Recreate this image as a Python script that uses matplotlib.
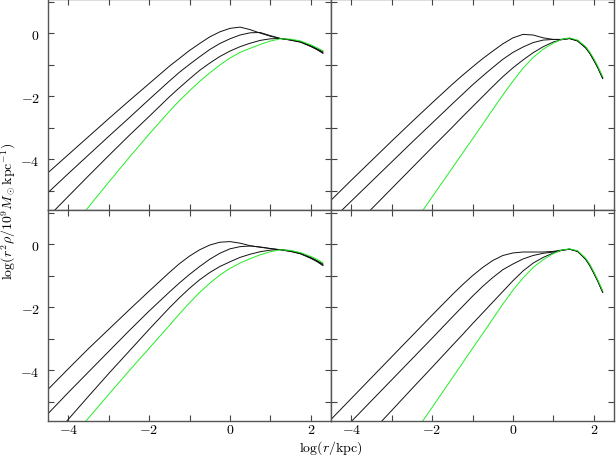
import matplotlib
matplotlib.use("Agg")
import matplotlib.pyplot as plt
import numpy as np
from matplotlib.ticker import MultipleLocator, FuncFormatter


# log r grid used when reading the curves off the left and right columns
X_LEFT = [-4.5, -4.0, -3.5, -3.0, -2.5, -2.0, -1.5, -1.25, -1.0, -0.75, -0.5, -0.25,
          0.0, 0.25, 0.5, 0.75, 1.0, 1.25, 1.5, 1.75, 2.0, 2.15, 2.3]
X_RIGHT = [-4.5, -4.0, -3.5, -3.0, -2.5, -2.0, -1.5, -1.25, -1.0, -0.75, -0.5, -0.25,
           0.0, 0.25, 0.5, 0.75, 1.0, 1.2, 1.4, 1.6, 1.8, 1.9, 2.0, 2.1, 2.22]

# top left
TL_A = [-4.42, -3.85, -3.28, -2.71, -2.15, -1.60, -1.05, -0.80, -0.55, -0.33, -0.12, 0.04,
        0.15, 0.19, 0.11, 0.00, -0.10, -0.17, -0.22, -0.28, -0.42, -0.52, -0.64]
TL_B = [-5.05, -4.45, -3.86, -3.27, -2.69, -2.10, -1.52, -1.24, -0.99, -0.75, -0.52, -0.33,
        -0.18, -0.06, 0.01, 0.02, -0.08, -0.17, -0.22, -0.29, -0.42, -0.51, -0.62]
TL_C = [-5.82, -5.17, -4.52, -3.88, -3.25, -2.64, -2.02, -1.73, -1.45, -1.18, -0.95, -0.74,
        -0.57, -0.43, -0.32, -0.23, -0.18, -0.17, -0.21, -0.27, -0.40, -0.49, -0.59]
TL_G = [None, -6.30, -5.51, -4.72, -3.95, -3.20, -2.48, -2.14, -1.83, -1.53, -1.26, -1.01,
        -0.79, -0.61, -0.48, -0.36, -0.25, -0.18, -0.19, -0.25, -0.37, -0.46, -0.56]

# bottom left
BL_A = [-4.60, -3.95, -3.31, -2.70, -2.09, -1.49, -0.90, -0.62, -0.38, -0.18, -0.03, 0.06,
        0.08, 0.03, -0.05, -0.10, -0.14, -0.18, -0.23, -0.31, -0.45, -0.55, -0.68]
BL_B = [-5.37, -4.70, -4.05, -3.40, -2.75, -2.12, -1.52, -1.23, -0.96, -0.71, -0.48, -0.29,
        -0.15, -0.08, -0.06, -0.09, -0.14, -0.18, -0.23, -0.30, -0.44, -0.54, -0.66]
BL_C = [-6.28, -5.55, -4.82, -4.10, -3.40, -2.70, -2.02, -1.70, -1.40, -1.13, -0.90, -0.71,
        -0.56, -0.42, -0.32, -0.24, -0.19, -0.17, -0.21, -0.29, -0.42, -0.52, -0.63]
BL_G = [None, -6.28, -5.51, -4.76, -4.02, -3.30, -2.58, -2.21, -1.86, -1.53, -1.24, -0.98,
        -0.77, -0.60, -0.46, -0.34, -0.24, -0.18, -0.20, -0.27, -0.39, -0.48, -0.59]

# top right
TR_A = [-5.29, -4.66, -4.04, -3.42, -2.81, -2.21, -1.62, -1.34, -1.07, -0.81, -0.57, -0.34,
        -0.15, -0.04, -0.06, -0.15, -0.20, -0.20, -0.17, -0.25, -0.47, -0.64, -0.86, -1.10, -1.44]
TR_B = [-5.94, -5.32, -4.70, -4.08, -3.46, -2.85, -2.24, -1.94, -1.64, -1.36, -1.09, -0.83,
        -0.61, -0.44, -0.30, -0.22, -0.20, -0.20, -0.17, -0.24, -0.46, -0.63, -0.85, -1.09, -1.42]
TR_C = [None, -6.22, -5.57, -4.92, -4.27, -3.62, -2.98, -2.65, -2.33, -2.01, -1.69, -1.38,
        -1.10, -0.85, -0.62, -0.43, -0.28, -0.21, -0.17, -0.24, -0.45, -0.62, -0.84, -1.08, -1.41]
TR_G = [None, None, None, None, -6.12, -5.19, -4.27, -3.81, -3.35, -2.89, -2.42, -1.96,
        -1.52, -1.11, -0.77, -0.51, -0.32, -0.20, -0.15, -0.22, -0.43, -0.60, -0.81, -1.05, -1.38]

# bottom right
BR_A = [-5.55, -4.89, -4.23, -3.57, -2.91, -2.25, -1.60, -1.29, -1.00, -0.74, -0.52, -0.36,
        -0.28, -0.25, -0.25, -0.25, -0.23, -0.19, -0.16, -0.23, -0.48, -0.68, -0.92, -1.18, -1.53]
BR_B = [-6.28, -5.62, -4.96, -4.30, -3.64, -2.98, -2.31, -1.98, -1.65, -1.34, -1.06, -0.81,
        -0.63, -0.47, -0.36, -0.29, -0.25, -0.20, -0.16, -0.23, -0.48, -0.67, -0.91, -1.17, -1.52]
BR_C = [None, None, -5.95, -5.27, -4.58, -3.90, -3.21, -2.87, -2.52, -2.18, -1.84, -1.50,
        -1.16, -0.85, -0.60, -0.42, -0.28, -0.20, -0.16, -0.22, -0.47, -0.66, -0.90, -1.16, -1.50]
BR_G = [None, None, None, None, -6.10, -5.17, -4.24, -3.77, -3.30, -2.84, -2.37, -1.90,
        -1.46, -1.07, -0.74, -0.49, -0.30, -0.19, -0.15, -0.21, -0.45, -0.64, -0.88, -1.14, -1.48]

XLIM = (-4.5, 2.5)
YLIM = (-5.6, 1.08)

plt.rcParams["mathtext.fontset"] = "cm"
plt.rcParams["font.family"] = "serif"
plt.rcParams["font.serif"] = ["DejaVu Serif"]


def tick_fmt(v, pos):
    return r"$%d$" % int(round(v))


def draw_panel(ax, x, curves, green, show_x, show_y):
    x = np.asarray(x, dtype=float)
    for ys in curves:
        ax.plot(x, np.asarray(ys, dtype=float), color="#111111", lw=0.7)
    ax.plot(x, np.asarray(green, dtype=float), color="#22ee22", lw=0.7)
    ax.set_xlim(*XLIM)
    ax.set_ylim(*YLIM)
    ax.xaxis.set_major_locator(MultipleLocator(2))
    ax.xaxis.set_minor_locator(MultipleLocator(1))
    ax.yaxis.set_major_locator(MultipleLocator(2))
    ax.yaxis.set_minor_locator(MultipleLocator(1))
    ax.xaxis.set_major_formatter(FuncFormatter(tick_fmt))
    ax.yaxis.set_major_formatter(FuncFormatter(tick_fmt))
    ax.tick_params(which="both", direction="in", top=True, right=True,
                   length=4, width=0.8, color="#444444", labelsize=10, pad=1)
    ax.tick_params(axis="y", pad=6)
    ax.tick_params(labelbottom=show_x, labelleft=show_y)
    for spine in ax.spines.values():
        spine.set_color("#555555")
        spine.set_linewidth(1.0)


fig = plt.figure(figsize=(6.16, 4.56), dpi=100)
left, mid, right = 48 / 616, 331 / 616, 614 / 616
top, mid_y, bottom = 1.0, 1 - 211 / 456, 1 - 422 / 456
w1, w2 = mid - left, right - mid
h1, h2 = top - mid_y, mid_y - bottom

ax_tl = fig.add_axes([left, mid_y, w1, h1])
ax_tr = fig.add_axes([mid, mid_y, w2, h1])
ax_bl = fig.add_axes([left, bottom, w1, h2])
ax_br = fig.add_axes([mid, bottom, w2, h2])

draw_panel(ax_tl, X_LEFT, [TL_A, TL_B, TL_C], TL_G, False, True)
draw_panel(ax_tr, X_RIGHT, [TR_A, TR_B, TR_C], TR_G, False, False)
draw_panel(ax_bl, X_LEFT, [BL_A, BL_B, BL_C], BL_G, True, True)
draw_panel(ax_br, X_RIGHT, [BR_A, BR_B, BR_C], BR_G, True, False)

fig.text(9 / 616, 1 - 211 / 456,
         r"$\log(r^2\rho/10^9M_\odot{\rm kpc}^{-1})$",
         rotation=90, ha="center", va="center", fontsize=10)
fig.text(331 / 616, 1 - 452 / 456, r"$\log(r/{\rm kpc})$",
         ha="center", va="baseline", fontsize=10)

fig.savefig("out.png", dpi=100)
